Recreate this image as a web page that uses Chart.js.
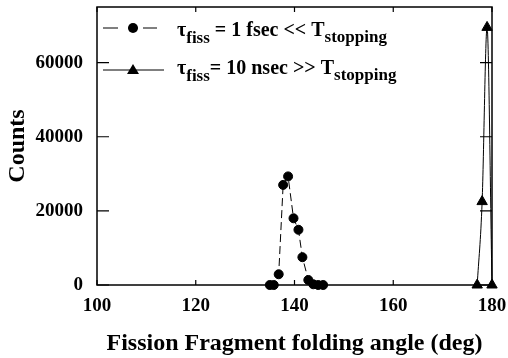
<!DOCTYPE html>
<html lang="en">
<head>
<meta charset="UTF-8" />
<title>Fission fragment folding angle</title>
<script src="https://cdn.jsdelivr.net/npm/chart.js@4.4.0/dist/chart.umd.min.js"></script>
<style>
  body { margin: 0; background: #fff; }
  #wrap { width: 508px; height: 358px; }
</style>
</head>
<body>
<div id="wrap"><canvas id="chart" width="508" height="358"></canvas></div>
<script>
  // --- data ---
  const fastAngles = [135.0, 135.8, 136.8, 137.7, 138.7, 139.8, 140.8, 141.6, 142.8, 143.8, 144.8, 145.8];
  const fastCounts = [0, 0, 2900, 27000, 29300, 18000, 14900, 7500, 1350, 200, 0, 0];
  const slowAngles = [177, 178, 179, 180];
  const slowCounts = [0, 22500, 69500, 0];
  const xTicks = [100, 120, 140, 160, 180];
  const yTicks = [0, 20000, 40000, 60000];

  const SERIF = '"Liberation Serif", "Times New Roman", serif';

  function toPoints(xs, ys) {
    return xs.map((x, i) => ({ x: x, y: ys[i] }));
  }

  // frame + inward tick marks on all four sides
  const framePlugin = {
    id: 'frame',
    afterDatasetsDraw(chart) {
      const { ctx, chartArea: a, scales } = chart;
      ctx.save();
      ctx.strokeStyle = '#000';
      ctx.lineWidth = 1.5;
      ctx.strokeRect(a.left, a.top, a.right - a.left, a.bottom - a.top);
      ctx.lineWidth = 1.2;
      ctx.beginPath();
      xTicks.forEach(v => {
        const px = scales.x.getPixelForValue(v);
        ctx.moveTo(px, a.bottom); ctx.lineTo(px, a.bottom - 5);
        ctx.moveTo(px, a.top); ctx.lineTo(px, a.top + 5);
      });
      yTicks.forEach(v => {
        const py = scales.y.getPixelForValue(v);
        ctx.moveTo(a.left, py); ctx.lineTo(a.left + 12, py);
        ctx.moveTo(a.right, py); ctx.lineTo(a.right - 12, py);
      });
      ctx.stroke();
      ctx.restore();
    }
  };

  // legend with subscripts, drawn inside the plot
  const legendPlugin = {
    id: 'subLegend',
    afterDraw(chart) {
      const ctx = chart.ctx;
      const rows = [
        { y: 28, base: 36, marker: 'circle',
          parts: [['τ', 20, 0], ['fiss', 17, 7], [' = 1 fsec << T', 20, 0], ['stopping', 17, 6]] },
        { y: 70, base: 74, marker: 'triangle',
          parts: [['τ', 20, 0], ['fiss', 17, 7], ['= 10 nsec >> T', 20, 0], ['stopping', 17, 6]] }
      ];
      ctx.save();
      rows.forEach(r => {
        ctx.strokeStyle = '#000';
        ctx.fillStyle = '#000';
        ctx.lineWidth = 1;
        ctx.beginPath();
        if (r.marker === 'circle') {
          ctx.moveTo(103, r.y); ctx.lineTo(118, r.y);
          ctx.moveTo(128, r.y); ctx.lineTo(138, r.y);
          ctx.moveTo(143, r.y); ctx.lineTo(157, r.y);
        } else {
          ctx.moveTo(103, r.y); ctx.lineTo(164, r.y);
        }
        ctx.stroke();
        ctx.beginPath();
        if (r.marker === 'circle') {
          ctx.arc(133, r.y, 5, 0, Math.PI * 2);
        } else {
          ctx.moveTo(133, r.y - 6); ctx.lineTo(139, r.y + 4); ctx.lineTo(127, r.y + 4); ctx.closePath();
        }
        ctx.fill();
        let x = 177;
        ctx.textBaseline = 'alphabetic';
        r.parts.forEach(p => {
          ctx.font = 'bold ' + p[1] + 'px ' + SERIF;
          ctx.fillText(p[0], x, r.base + p[2]);
          x += ctx.measureText(p[0]).width;
        });
      });
      ctx.restore();
    }
  };

  const tickFont = { family: SERIF, size: 19, weight: 'bold' };
  const titleFont = { family: SERIF, size: 24, weight: 'bold' };

  function noPad(s) {
    s.paddingTop = 0; s.paddingBottom = 0; s.paddingLeft = 0; s.paddingRight = 0;
  }

  new Chart(document.getElementById('chart'), {
    type: 'line',
    data: {
      datasets: [
        {
          label: 'τfiss = 1 fsec << Tstopping',
          data: toPoints(fastAngles, fastCounts),
          borderColor: '#000',
          backgroundColor: '#000',
          borderWidth: 1,
          borderDash: [8, 4],
          pointStyle: 'circle',
          pointRadius: 4.5,
          tension: 0,
          clip: false
        },
        {
          label: 'τfiss = 10 nsec >> Tstopping',
          data: toPoints(slowAngles, slowCounts),
          borderColor: '#000',
          backgroundColor: '#000',
          borderWidth: 1,
          pointStyle: 'triangle',
          pointRadius: 6,
          cubicInterpolationMode: 'monotone',
          clip: false
        }
      ]
    },
    options: {
      responsive: false,
      animation: false,
      devicePixelRatio: 1,
      layout: { padding: { top: 7, right: 16, bottom: 0, left: 0 } },
      plugins: { legend: { display: false }, tooltip: { enabled: false } },
      scales: {
        x: {
          type: 'linear',
          min: 100,
          max: 180,
          afterBuildTicks: s => { s.ticks = xTicks.map(v => ({ value: v })); },
          afterFit: s => { s.height = 73; noPad(s); },
          grid: { display: false, drawTicks: false },
          border: { display: false },
          ticks: { color: '#000', font: tickFont, padding: 10, maxRotation: 0,
                   callback: v => String(v) },
          title: { display: true, text: 'Fission Fragment folding angle (deg)', color: '#000',
                   font: titleFont, padding: { top: 0, bottom: 0 } }
        },
        y: {
          min: 0,
          max: 75000,
          afterBuildTicks: s => { s.ticks = yTicks.map(v => ({ value: v })); },
          afterFit: s => { s.width = 97; noPad(s); },
          grid: { display: false, drawTicks: false },
          border: { display: false },
          ticks: { color: '#000', font: tickFont, padding: 14, callback: v => String(v) },
          title: { display: true, text: 'Counts', color: '#000',
                   font: titleFont, padding: { top: 3, bottom: 0 } }
        }
      }
    },
    plugins: [framePlugin, legendPlugin]
  });
</script>
</body>
</html>
